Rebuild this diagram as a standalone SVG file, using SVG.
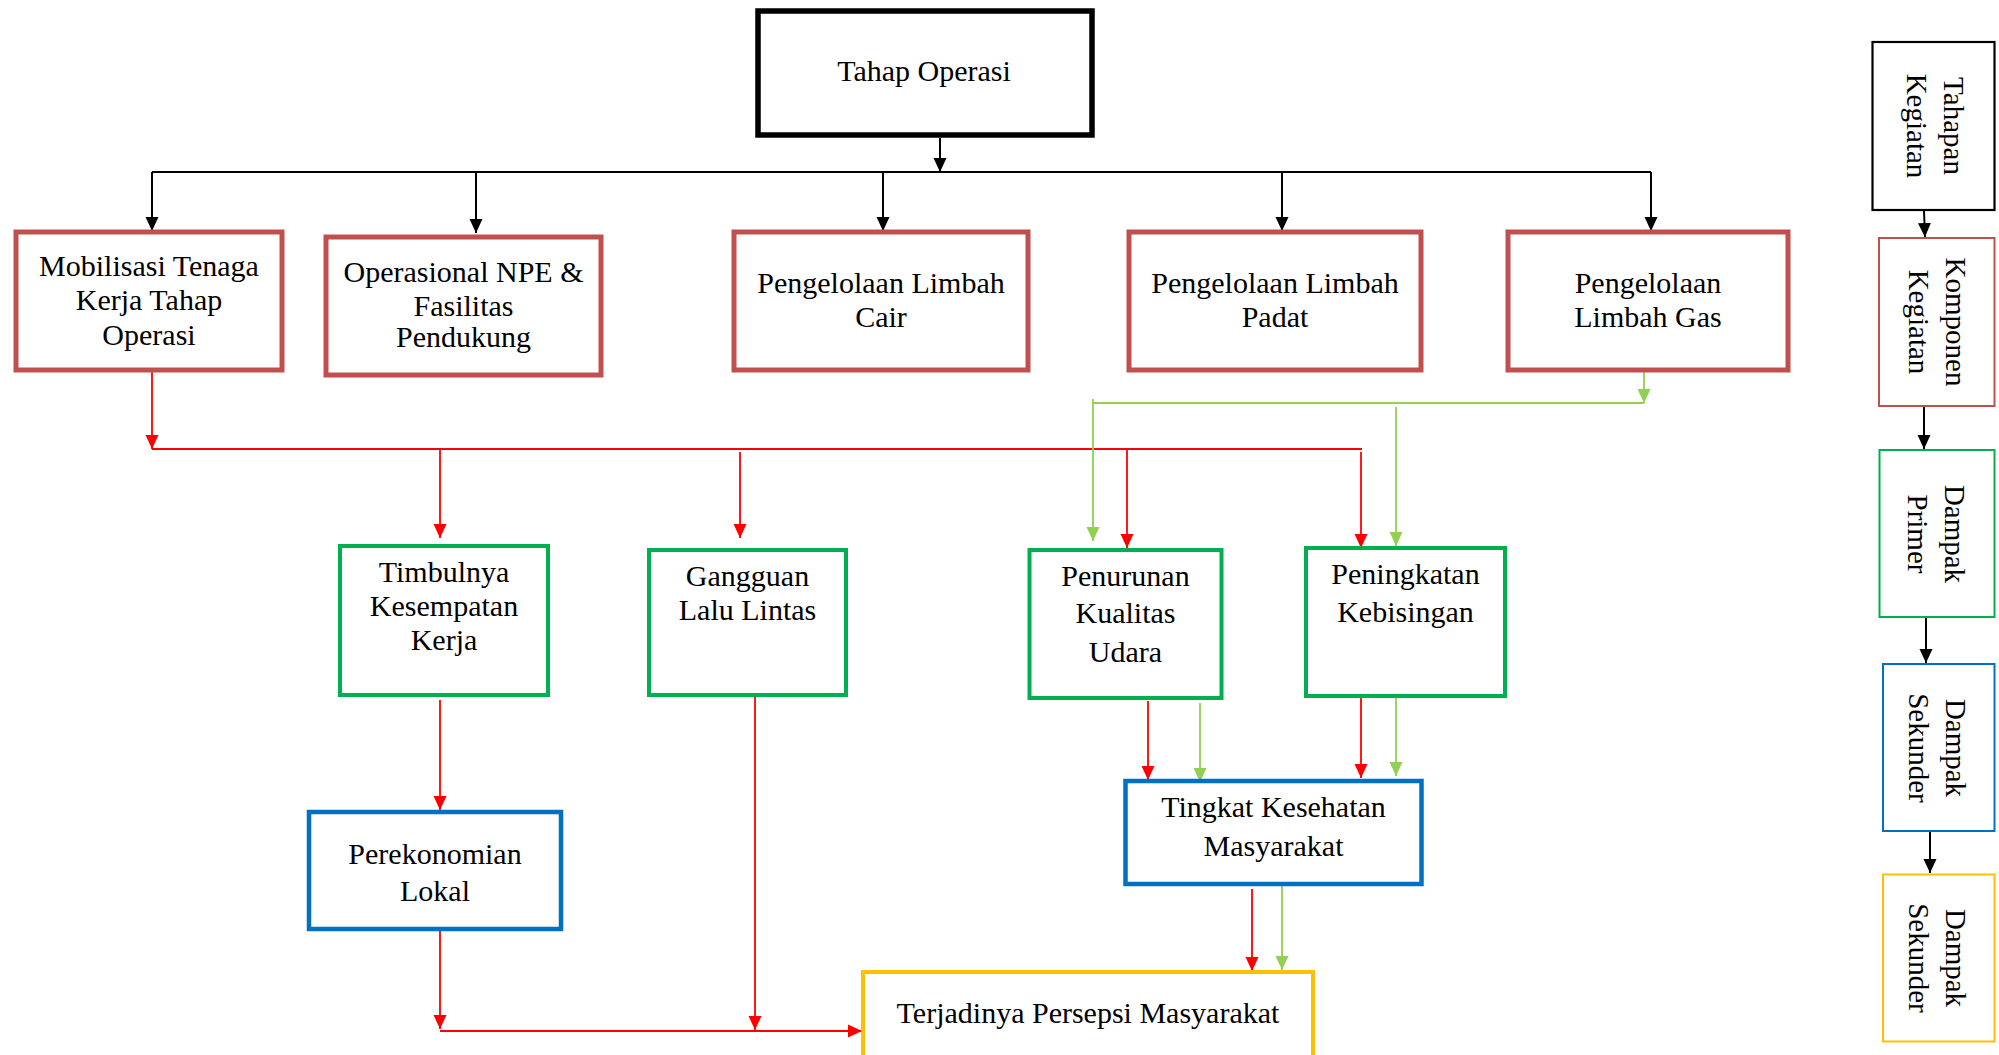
<svg xmlns="http://www.w3.org/2000/svg" width="1999" height="1055" viewBox="0 0 1999 1055">
<defs>
<style>
.t{font-family:"Liberation Serif","Times New Roman",serif;font-size:30px;fill:#000;text-anchor:middle}
.lg{font-family:"Liberation Serif","Times New Roman",serif;font-size:29px;fill:#000;text-anchor:middle}
.comp{fill:#fff;stroke:#C0504D;stroke-width:5}
.prim{fill:#fff;stroke:#00B050;stroke-width:4}
.sek{fill:#fff;stroke:#0070C0;stroke-width:4.5}
.ter{fill:#fff;stroke:#FFC000;stroke-width:4}
.bk{stroke:#000;stroke-width:2;fill:none}
.rd{stroke:#FF0000;stroke-width:1.8;fill:none}
.gr{stroke:#92D050;stroke-width:1.8;fill:none}
</style>
<marker id="ab" markerUnits="userSpaceOnUse" markerWidth="14" markerHeight="14" refX="14" refY="7" orient="auto"><path d="M0,0.5 L14,7 L0,13.5 z" fill="#000"/></marker>
<marker id="ar" markerUnits="userSpaceOnUse" markerWidth="14" markerHeight="14" refX="14" refY="7" orient="auto"><path d="M0,0.5 L14,7 L0,13.5 z" fill="#FF0000"/></marker>
<marker id="ag" markerUnits="userSpaceOnUse" markerWidth="14" markerHeight="14" refX="14" refY="7" orient="auto"><path d="M0,0.5 L14,7 L0,13.5 z" fill="#92D050"/></marker>
</defs>
<rect width="1999" height="1055" fill="#fff"/>

<g id="connectors">
<!-- black -->
<line class="bk" x1="940" y1="138" x2="940" y2="172" marker-end="url(#ab)"/>
<line class="bk" x1="152" y1="172" x2="1651" y2="172"/>
<line class="bk" x1="152" y1="172" x2="152" y2="231" marker-end="url(#ab)"/>
<line class="bk" x1="476" y1="172" x2="476" y2="233" marker-end="url(#ab)"/>
<line class="bk" x1="883" y1="172" x2="883" y2="231" marker-end="url(#ab)"/>
<line class="bk" x1="1282" y1="172" x2="1282" y2="231" marker-end="url(#ab)"/>
<line class="bk" x1="1651" y1="172" x2="1651" y2="231" marker-end="url(#ab)"/>
<!-- legend -->
<line class="bk" x1="1924" y1="211" x2="1925" y2="237" marker-end="url(#ab)"/>
<line class="bk" x1="1924" y1="406" x2="1924" y2="449" marker-end="url(#ab)"/>
<line class="bk" x1="1926" y1="617" x2="1926" y2="663" marker-end="url(#ab)"/>
<line class="bk" x1="1930" y1="827" x2="1930" y2="873" marker-end="url(#ab)"/>
<!-- red -->
<line class="rd" x1="152" y1="372" x2="152" y2="449" marker-end="url(#ar)"/>
<line class="rd" x1="152" y1="449" x2="1362" y2="449"/>
<line class="rd" x1="440" y1="448" x2="440" y2="538" marker-end="url(#ar)"/>
<line class="rd" x1="740" y1="452" x2="740" y2="538" marker-end="url(#ar)"/>
<line class="rd" x1="1127" y1="448" x2="1127" y2="548" marker-end="url(#ar)"/>
<line class="rd" x1="1361" y1="452" x2="1361" y2="548" marker-end="url(#ar)"/>
<line class="rd" x1="440" y1="700" x2="440" y2="810" marker-end="url(#ar)"/>
<line class="rd" x1="440" y1="931" x2="440" y2="1029" marker-end="url(#ar)"/>
<line class="rd" x1="755" y1="689" x2="755" y2="1030" marker-end="url(#ar)"/>
<line class="rd" x1="440" y1="1031" x2="862" y2="1031" stroke-width="3" marker-end="url(#ar)"/>
<line class="rd" x1="1148" y1="701" x2="1148" y2="780" marker-end="url(#ar)"/>
<line class="rd" x1="1361" y1="695" x2="1361" y2="778" marker-end="url(#ar)"/>
<line class="rd" x1="1252" y1="889" x2="1252" y2="971" marker-end="url(#ar)"/>
<!-- green -->
<line class="gr" x1="1644" y1="359" x2="1644" y2="403" marker-end="url(#ag)"/>
<line class="gr" x1="1093" y1="403" x2="1644" y2="403"/>
<line class="gr" x1="1093" y1="399" x2="1093" y2="541" marker-end="url(#ag)"/>
<line class="gr" x1="1396" y1="407" x2="1396" y2="546" marker-end="url(#ag)"/>
<line class="gr" x1="1200" y1="703" x2="1200" y2="782" marker-end="url(#ag)"/>
<line class="gr" x1="1396" y1="689" x2="1396" y2="776" marker-end="url(#ag)"/>
<line class="gr" x1="1282" y1="885" x2="1282" y2="970" marker-end="url(#ag)"/>
</g>

<g id="tahap-operasi">
<rect x="758" y="11" width="334" height="124" fill="#fff" stroke="#000" stroke-width="5.5"/>
<text class="t" x="924" y="81">Tahap Operasi</text>
</g>

<g id="mobilisasi">
<rect class="comp" x="16" y="232" width="266" height="138"/>
<text class="t"><tspan x="149" y="276">Mobilisasi Tenaga</tspan><tspan x="149" y="310">Kerja Tahap</tspan><tspan x="149" y="345">Operasi</tspan></text>
</g>

<g id="operasional">
<rect class="comp" x="326" y="237" width="275" height="138"/>
<text class="t"><tspan x="463.5" y="282">Operasional NPE &amp;</tspan><tspan x="463.5" y="316">Fasilitas</tspan><tspan x="463.5" y="347">Pendukung</tspan></text>
</g>

<g id="limbah-cair">
<rect class="comp" x="734" y="232" width="294" height="138"/>
<text class="t"><tspan x="881" y="293">Pengelolaan Limbah</tspan><tspan x="881" y="327">Cair</tspan></text>
</g>

<g id="limbah-padat">
<rect class="comp" x="1129" y="232" width="292" height="138"/>
<text class="t"><tspan x="1275" y="293">Pengelolaan Limbah</tspan><tspan x="1275" y="327">Padat</tspan></text>
</g>

<g id="limbah-gas">
<rect class="comp" x="1508" y="232" width="280" height="138"/>
<text class="t"><tspan x="1648" y="293">Pengelolaan</tspan><tspan x="1648" y="327">Limbah Gas</tspan></text>
</g>

<g id="timbulnya">
<rect class="prim" x="340" y="546" width="208" height="149"/>
<text class="t"><tspan x="444" y="582">Timbulnya</tspan><tspan x="444" y="616">Kesempatan</tspan><tspan x="444" y="650">Kerja</tspan></text>
</g>

<g id="gangguan">
<rect class="prim" x="649" y="550" width="197" height="145"/>
<text class="t"><tspan x="747.5" y="586">Gangguan</tspan><tspan x="747.5" y="620">Lalu Lintas</tspan></text>
</g>

<g id="penurunan">
<rect class="prim" x="1029.5" y="550" width="192" height="148"/>
<text class="t"><tspan x="1125.5" y="586">Penurunan</tspan><tspan x="1125.5" y="623">Kualitas</tspan><tspan x="1125.5" y="662">Udara</tspan></text>
</g>

<g id="peningkatan">
<rect class="prim" x="1306" y="548" width="199" height="148"/>
<text class="t"><tspan x="1405.5" y="584">Peningkatan</tspan><tspan x="1405.5" y="622">Kebisingan</tspan></text>
</g>

<g id="perekonomian">
<rect class="sek" x="309" y="812" width="252" height="117"/>
<text class="t"><tspan x="435" y="864">Perekonomian</tspan><tspan x="435" y="901">Lokal</tspan></text>
</g>

<g id="tingkat">
<rect class="sek" x="1125.5" y="781" width="296" height="103"/>
<text class="t"><tspan x="1273.5" y="817">Tingkat Kesehatan</tspan><tspan x="1273.5" y="856">Masyarakat</tspan></text>
</g>

<g id="terjadinya">
<rect class="ter" x="863" y="972" width="450" height="110"/>
<text class="t" x="1088" y="1023">Terjadinya Persepsi Masyarakat</text>
</g>

<g id="legend-tahapan">
<rect x="1872.5" y="42" width="122" height="168" fill="#fff" stroke="#000" stroke-width="2.2"/>
<text class="lg" transform="translate(1944,126) rotate(90)"><tspan x="0" y="0">Tahapan</tspan><tspan x="0" y="37">Kegiatan</tspan></text>
</g>

<g id="legend-komponen">
<rect x="1879" y="238" width="115.5" height="168" fill="#fff" stroke="#C0504D" stroke-width="2"/>
<text class="lg" transform="translate(1946,322) rotate(90)"><tspan x="0" y="0">Komponen</tspan><tspan x="0" y="37">Kegiatan</tspan></text>
</g>

<g id="legend-primer">
<rect x="1879.5" y="450" width="115" height="167" fill="#fff" stroke="#00B050" stroke-width="2"/>
<text class="lg" transform="translate(1945,534) rotate(90)"><tspan x="0" y="0">Dampak</tspan><tspan x="0" y="37">Primer</tspan></text>
</g>

<g id="legend-sekunder">
<rect x="1883" y="664" width="111.5" height="167" fill="#fff" stroke="#0070C0" stroke-width="2"/>
<text class="lg" transform="translate(1946,748) rotate(90)"><tspan x="0" y="0">Dampak</tspan><tspan x="0" y="37">Sekunder</tspan></text>
</g>

<g id="legend-tersier">
<rect x="1883" y="874.5" width="111.5" height="167" fill="#fff" stroke="#FFC000" stroke-width="2"/>
<text class="lg" transform="translate(1946,958) rotate(90)"><tspan x="0" y="0">Dampak</tspan><tspan x="0" y="37">Sekunder</tspan></text>
</g>
</svg>
